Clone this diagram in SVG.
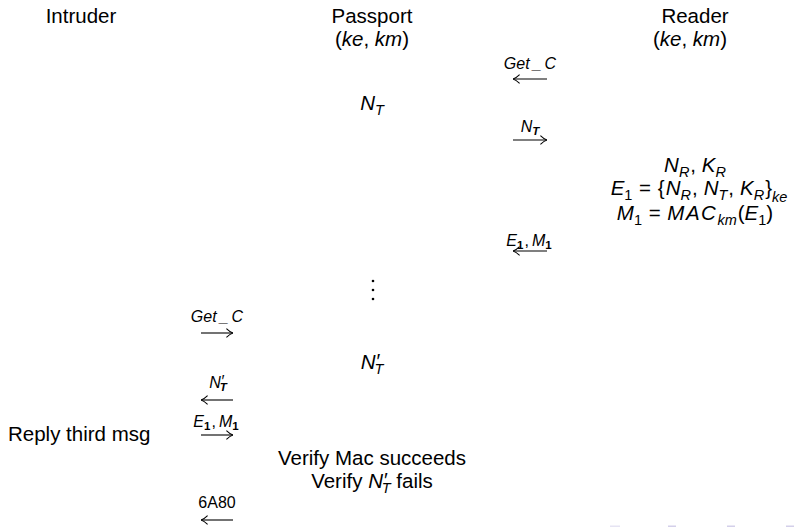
<svg xmlns="http://www.w3.org/2000/svg" width="801" height="527" viewBox="0 0 801 527">
<style>
.t{font-family:"Liberation Sans",Arial,sans-serif;font-size:20.5px;fill:#000}
.i{font-style:italic}
.s{font-size:14.5px}
.l{font-family:"Liberation Sans",Arial,sans-serif;font-size:16px;fill:#000}
.ls{font-size:11.5px}
.b{font-weight:bold}
.ar{stroke:#000;stroke-width:1.1;fill:none}
</style>
<defs>
<marker id="hd" viewBox="0 0 8 10" refX="7.6" refY="5" markerWidth="8" markerHeight="10" markerUnits="userSpaceOnUse" orient="auto">
<path d="M1,0.6 Q4.5,4 7.6,5 Q4.5,6 1,9.4" fill="none" stroke="#000" stroke-width="1.1"/>
</marker>
</defs>

<g id="intruder">
<text class="t" x="81" y="23" text-anchor="middle">Intruder</text>
<text class="t" x="8" y="441">Reply third msg</text>
</g>

<g id="passport">
<text class="t" x="372" y="23" text-anchor="middle">Passport</text>
<text class="t" x="372" y="46" text-anchor="middle">(<tspan class="i">ke</tspan>, <tspan class="i">km</tspan>)</text>
<text class="t i" x="372" y="110" text-anchor="middle">N<tspan class="s" dy="5">T</tspan></text>
<g id="vdots" fill="#000"><circle cx="373" cy="281" r="1.3"/><circle cx="373" cy="290" r="1.3"/><circle cx="373" cy="299" r="1.3"/></g>
<text class="t i" x="372" y="369" text-anchor="middle">N<tspan dy="-1">′</tspan><tspan class="s" dx="-5" dy="6">T</tspan></text>
<text class="t" x="372" y="465" text-anchor="middle">Verify Mac succeeds</text>
<text class="t" x="372" y="488" text-anchor="middle">Verify <tspan class="i">N</tspan><tspan class="i" dy="-1">′</tspan><tspan class="s i" dx="-5" dy="6">T</tspan><tspan dy="-5"> fails</tspan></text>
</g>

<g id="reader">
<text class="t" x="695" y="23" text-anchor="middle">Reader</text>
<text class="t" x="690" y="46" text-anchor="middle">(<tspan class="i">ke</tspan>, <tspan class="i">km</tspan>)</text>
<text class="t" x="695" y="172" text-anchor="middle"><tspan class="i">N</tspan><tspan class="s i" dy="5">R</tspan><tspan dy="-5" dx="1">, </tspan><tspan class="i">K</tspan><tspan class="s i" dy="5">R</tspan></text>
<text class="t" x="699" y="195" text-anchor="middle"><tspan class="i">E</tspan><tspan class="s" dy="5">1</tspan><tspan dy="-5" dx="1"> = </tspan><tspan dx="1">{</tspan><tspan class="i" dx="1">N</tspan><tspan class="s i" dy="5">R</tspan><tspan dy="-5" dx="1">,</tspan><tspan class="i" dx="6">N</tspan><tspan class="s i" dy="5">T</tspan><tspan dy="-5" dx="1">,</tspan><tspan class="i" dx="6">K</tspan><tspan class="s i" dy="5">R</tspan><tspan dy="-5" dx="1">}</tspan><tspan class="s i" dy="7">ke</tspan></text>
<text class="t" x="695" y="220" text-anchor="middle"><tspan class="i">M</tspan><tspan class="s" dy="5">1</tspan><tspan dy="-5" dx="1"> = </tspan><tspan class="i" dx="1" letter-spacing="1.5">MAC</tspan><tspan class="s i" dy="5">km</tspan><tspan dy="-5" dx="1">(</tspan><tspan class="i">E</tspan><tspan class="s" dy="5">1</tspan><tspan dy="-5">)</tspan></text>
</g>

<g id="connectors">
<line class="ar" x1="547" y1="79" x2="513" y2="79" marker-end="url(#hd)"/>
<text class="l i" x="530" y="69" text-anchor="middle">Get<tspan dx="3">_</tspan><tspan dx="3">C</tspan></text>

<line class="ar" x1="513" y1="140" x2="547" y2="140" marker-end="url(#hd)"/>
<text class="l i" x="530" y="132" text-anchor="middle">N<tspan class="ls b" dy="3">T</tspan></text>

<line class="ar" x1="547" y1="251" x2="513" y2="251" marker-end="url(#hd)"/>
<text class="l" x="529" y="246" text-anchor="middle"><tspan class="i">E</tspan><tspan class="ls b" dy="3">1</tspan><tspan dy="-3" dx="1">,</tspan><tspan class="i" dx="3">M</tspan><tspan class="ls b" dy="3">1</tspan></text>

<line class="ar" x1="201" y1="333" x2="233" y2="333" marker-end="url(#hd)"/>
<text class="l i" x="217" y="322" text-anchor="middle">Get<tspan dx="3">_</tspan><tspan dx="3">C</tspan></text>

<line class="ar" x1="233" y1="400" x2="201" y2="400" marker-end="url(#hd)"/>
<text class="l i" x="218" y="388" text-anchor="middle">N<tspan dy="-1">′</tspan><tspan class="ls b" dx="-4" dy="4">T</tspan></text>

<line class="ar" x1="201" y1="435" x2="233" y2="435" marker-end="url(#hd)"/>
<text class="l" x="216" y="427" text-anchor="middle"><tspan class="i">E</tspan><tspan class="ls b" dy="3">1</tspan><tspan dy="-3" dx="1">,</tspan><tspan class="i" dx="3">M</tspan><tspan class="ls b" dy="3">1</tspan></text>

<line class="ar" x1="233" y1="520" x2="201" y2="520" marker-end="url(#hd)"/>
<text class="l" x="217" y="508" text-anchor="middle">6A80</text>
</g>

<g id="nav" fill="#d4d0ea">
<rect x="610" y="525.5" width="10" height="1.5" fill="#e6e4f3"/>
<rect x="668" y="525.5" width="8" height="1.5"/>
<rect x="727" y="525.5" width="8" height="1.5"/>
<rect x="786" y="525.5" width="8" height="1.5"/>
</g>
</svg>
